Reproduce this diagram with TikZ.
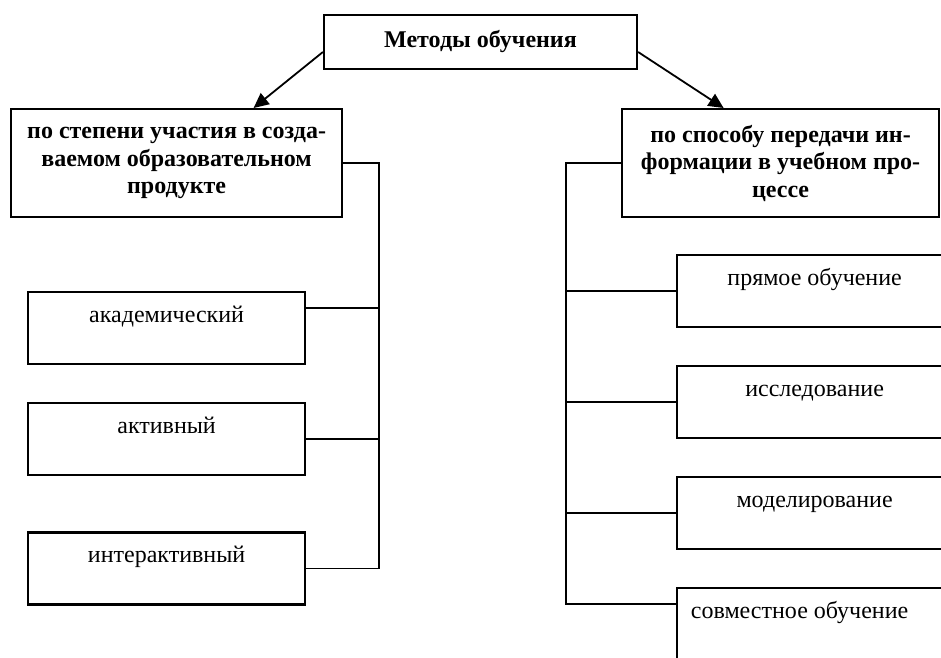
\documentclass[tikz,border=0pt]{standalone}
\usepackage{fontspec}
\setmainfont{Liberation Serif}
\usetikzlibrary{arrows.meta}
\usetikzlibrary{positioning}
\tikzset {
  chart path/.style = {
    draw = black,
    line width = 1.8pt
  },
  % path style with an arrow at the end
  arr/.style = {
    chart path,
    -{Triangle[length=15pt,width=14pt]}
  },
  % path style with no arrows
  narr/.style = {
    chart path
  }
}
\tikzset {
  chart node/.style = {
    draw = black,
    line width = 2.2pt,
    rectangle,
    inner sep = 0pt,
    font = \fontsize{24}{27.5}\selectfont
  },
  % root and group headings
  head/.style = {
    chart node,
    font = \fontsize{24}{27.5}\selectfont\bfseries,
    align = center
  },
  % single method, text near the top
  leaf/.style = {
    chart node,
    minimum width = 277pt,
    minimum height = 72pt,
    text height = 30pt,
    text depth = 42pt
  },
  node distance = 36.8pt
}
\begin{document}
\begin{tikzpicture}[x=1pt,y=1pt]
    \useasboundingbox (0,0) rectangle (941,657);
    \clip (0,0) rectangle (941,657);

    \node[head, minimum width=313pt, minimum height=54pt] (methods) at (480.5,615) {Методы обучения};
    \node[head, minimum width=331pt, minimum height=108pt, anchor=north west] (participation) at (10,549)
      {по степени участия в созда-\\ваемом образовательном\\продукте};
    \node[head, minimum width=317pt, minimum height=108pt, anchor=north west] (transfer) at (621,549)
      {по способу передачи ин-\\формации в учебном про-\\цессе};

    \node[leaf] (academic) [below=73pt of participation.south west, anchor=north west, xshift=17pt] {академический};
    \node[leaf] (active) [below=of academic] {активный};
    \node[leaf] (interactive) [below=55pt of active] {интерактивный};

    \node[leaf, minimum width=275pt] (direct) [below=36pt of transfer.south west, anchor=north west, xshift=55pt] {прямое обучение};
    \node[leaf, minimum width=275pt] (research) [below=of direct] {исследование};
    \node[leaf, minimum width=275pt] (modeling) [below=of research] {моделирование};
    \node[leaf, minimum width=275pt] (joint) [below=of modeling] {совместное обучение\rule{30pt}{0pt}};

    \coordinate [right=36pt of participation.east] (part-bus);
    \coordinate [below=17pt of academic.north east] (academic-port);
    \coordinate [left=55pt of transfer.west] (trans-bus);
    \coordinate [below=17pt of joint.north west] (joint-port);

    \draw[arr] ([yshift=-10pt]methods.west) -- ([xshift=77pt]participation.north);
    \draw[arr] ([yshift=-10pt]methods.east) -- ([xshift=-57pt]transfer.north);

    \draw[narr] (participation.east) -- (part-bus) |- (interactive.east);
    \draw[narr] (academic-port) -- (academic-port -| part-bus);
    \draw[narr] (active.east) -- (active.east -| part-bus);

    \draw[narr] (transfer.west) -- (trans-bus) |- (joint-port);
    \draw[narr] (direct.west) -- (direct.west -| trans-bus);
    \draw[narr] (research.west) -- (research.west -| trans-bus);
    \draw[narr] (modeling.west) -- (modeling.west -| trans-bus);
  \end{tikzpicture}
\end{document}
